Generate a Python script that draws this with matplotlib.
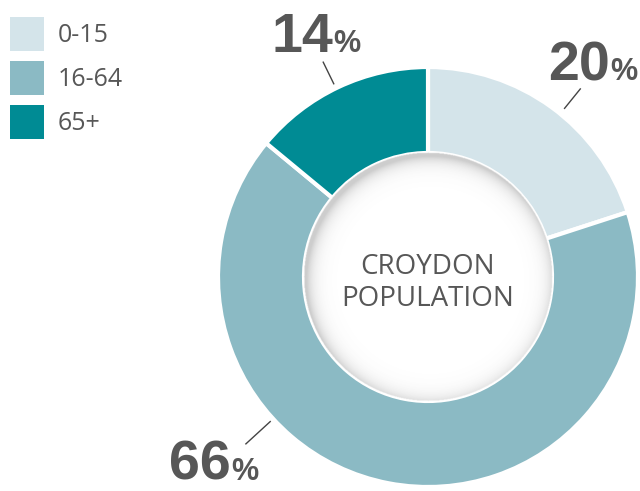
import numpy as np
import matplotlib
matplotlib.use("Agg")
import matplotlib.pyplot as plt
from matplotlib.patches import Rectangle, Circle

# Age bands and their share of the population
categories = ["0-15", "16-64", "65+"]
shares = [20, 66, 14]
colors = ["#d4e4ea", "#8bbac4", "#008b94"]
center_title = "CROYDON\nPOPULATION"

TEXT = "#575757"
W, H = 640, 491
fig = plt.figure(figsize=(W / 100, H / 100), dpi=100)
ax = fig.add_axes([0, 0, 1, 1])

cx, cy = 428, H - 277
R_OUT, R_IN = 210, 124

wedges, _ = ax.pie(shares, colors=colors, startangle=90, counterclock=False,
                   center=(cx, cy), radius=R_OUT, frame=True,
                   wedgeprops=dict(width=R_OUT - R_IN, edgecolor="white", linewidth=3))
ax.set_xlim(0, W)
ax.set_ylim(0, H)
ax.set_aspect("equal")
ax.axis("off")

# Hole with a soft inner shadow
ax.add_patch(Circle((cx, cy), R_IN + 0.5, facecolor="white", edgecolor="none", zorder=3))
gx = np.arange(cx - R_IN - 2, cx + R_IN + 2, 0.5)
gy = np.arange(cy - R_IN - 2, cy + R_IN + 2, 0.5)
XX, YY = np.meshgrid(gx, gy)
dist = np.hypot(XX - cx, YY - cy)
dist_s = np.hypot(XX - (cx + 2.5), YY - (cy - 3.5))
depth = np.clip(R_IN - dist_s, 0, None)
alpha = 0.30 * np.exp(-depth / 7.0)
alpha[dist > R_IN] = 0
img = np.zeros(XX.shape + (4,))
img[..., :3] = 0.35
img[..., 3] = alpha
ax.imshow(img, extent=(gx[0], gx[-1], gy[0], gy[-1]), origin="lower",
          interpolation="bilinear", zorder=4)

ax.text(cx, H - 253, center_title, ha="center", va="top", fontsize=20,
        family="Open Sans", color=TEXT, linespacing=1.18, zorder=5)

# Percentage callouts: leader line angle/radii and text anchor (pixel layout)
callouts = [
    # (angle deg, r0, r1, anchor x, anchor baseline y)
    (51.0, 217, 242, 610, 80),
    (222.5, 214, 247, 231, 480),
    (116.0, 215, 239, 333, 52),
]
for (ang, r0, r1, tx, ty), val in zip(callouts, shares):
    a = np.deg2rad(ang)
    ax.plot([cx + r0 * np.cos(a), cx + r1 * np.cos(a)],
            [cy + r0 * np.sin(a), cy + r1 * np.sin(a)],
            color="#444444", lw=1.0, zorder=6)
    ax.text(tx, H - ty, f"{val}", ha="right", va="baseline", fontsize=40,
            fontweight="bold", family="Liberation Sans", color=TEXT, zorder=6)
    ax.text(tx, H - ty, "%", ha="left", va="baseline", fontsize=22,
            fontweight="bold", family="Liberation Sans", color=TEXT, zorder=6)

# Legend
for i, (lab, col) in enumerate(zip(categories, colors)):
    top = 17 + i * 44
    ax.add_patch(Rectangle((10, H - top - 34), 34, 34, facecolor=col,
                           edgecolor="none"))
    ax.text(58, H - top - 18, lab, ha="left", va="center", fontsize=18,
            family="Open Sans", color=TEXT)

fig.savefig("out.png", dpi=100)
